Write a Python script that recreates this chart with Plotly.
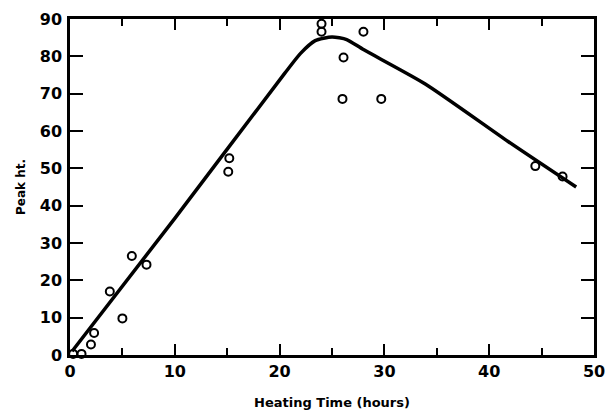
import plotly.graph_objects as go

# Observed points (Heating time in hours, peak height)
pts_x = [0.3, 1.1, 2.0, 2.3, 3.8, 5.0, 5.9, 7.3, 15.1, 15.2, 24.0, 24.0, 26.0, 26.1, 28.0, 29.7, 44.4, 47.0]
pts_y = [0.3, 0.3, 2.8, 5.9, 17.0, 9.8, 26.5, 24.2, 49.1, 52.7, 88.7, 86.6, 68.6, 79.7, 86.6, 68.6, 50.6, 47.8]

# Fitted curve
curve_x = [0.2, 10.0, 20.5, 22.0, 23.4, 25.0, 26.4, 28.0, 33.9, 41.8, 48.3]
curve_y = [1.0, 36.6, 75.5, 80.8, 84.2, 85.2, 84.5, 81.8, 72.6, 57.2, 45.0]

x_ticks = [0, 10, 20, 30, 40, 50]
x_minor = [5, 15, 25, 35, 45]
y_ticks = [0, 10, 20, 30, 40, 50, 60, 70, 80, 90]

FONT = "DejaVu Sans"

fig = go.Figure()
fig.add_trace(go.Scatter(
    x=curve_x, y=curve_y, mode="lines",
    line=dict(color="black", width=3.5, shape="spline", smoothing=0.6),
    showlegend=False, hoverinfo="skip",
))
fig.add_trace(go.Scatter(
    x=pts_x, y=pts_y, mode="markers",
    marker=dict(symbol="circle-open", size=8, color="black", line=dict(width=2, color="black")),
    showlegend=False, cliponaxis=False,
))

fig.update_layout(
    width=615, height=418,
    margin=dict(l=70, r=10, t=14, b=54),
    paper_bgcolor="white", plot_bgcolor="white",
    font=dict(family=FONT, color="black"),
)
fig.update_xaxes(
    range=[0, 50], tickvals=x_ticks, ticktext=[str(v) for v in x_ticks],
    ticks="inside", ticklen=11, tickwidth=2, tickcolor="black",
    minor=dict(tickvals=x_minor, ticks="inside", ticklen=7, tickwidth=2, tickcolor="black"),
    showline=True, linewidth=2.5, linecolor="black", mirror="ticks",
    showgrid=False, zeroline=False,
    tickfont=dict(family=FONT, size=16, color="black", weight="bold"),
    title=dict(text="Heating Time (hours)", font=dict(family=FONT, size=13, color="black", weight="bold"), standoff=18),
)
fig.update_yaxes(
    range=[0, 90], tickvals=y_ticks, ticktext=[str(v) for v in y_ticks],
    ticks="inside", ticklen=13, tickwidth=2, tickcolor="black",
    showline=True, linewidth=2.5, linecolor="black", mirror="ticks",
    showgrid=False, zeroline=False,
    tickfont=dict(family=FONT, size=16, color="black", weight="bold"),
    ticklabelstandoff=2,
    title=dict(text="Peak ht.", font=dict(family=FONT, size=12, color="black", weight="bold"), standoff=12),
)

fig.write_html("out.html")
